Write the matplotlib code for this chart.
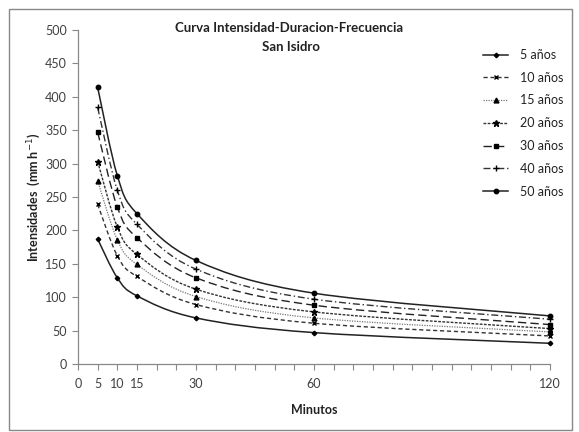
import numpy as np
import matplotlib
matplotlib.use("Agg")
import matplotlib.pyplot as plt
from matplotlib.path import Path
from matplotlib.patches import PathPatch, Rectangle
from matplotlib.lines import Line2D

minutos = [5, 10, 15, 30, 60, 120]
series_labels = ["5 años", "10 años", "15 años", "20 años", "30 años", "40 años", "50 años"]
i_5 = [187, 129, 102, 69, 47, 31]
i_10 = [239, 162, 131, 89, 61, 42]
i_15 = [274, 186, 149, 101, 69, 48]
i_20 = [303, 205, 164, 112, 78, 53]
i_30 = [347, 235, 189, 129, 88, 59]
i_40 = [384, 260, 209, 142, 97, 67]
i_50 = [414, 282, 225, 155, 106, 72]
x_tick_labels = [0, 5, 10, 15, 30, 60, 120]

all_series = [i_5, i_10, i_15, i_20, i_30, i_40, i_50]
styles = [
    dict(ls="-", marker="D", ms=2.3, color="#222222", lw=1.1),
    dict(ls=(0, (3, 2)), marker="x", ms=3.5, color="#333333", lw=1.0),
    dict(ls=(0, (1, 1)), marker="^", ms=3.5, color="#777777", lw=0.9),
    dict(ls=(0, (2, 1)), marker="*", ms=4.5, color="#333333", lw=1.0),
    dict(ls=(0, (6, 3)), marker="s", ms=3.5, color="#222222", lw=1.0),
    dict(ls=(0, (5, 2, 1, 2)), marker="+", ms=4.5, color="#333333", lw=1.0),
    dict(ls="-", marker="o", ms=3.2, color="#222222", lw=1.1),
]

plt.rcParams['font.family'] = ['Lato', 'DejaVu Sans']

fig = plt.figure(figsize=(5.79, 4.32), dpi=100)
ax_w, ax_h = 472, 334
ax = fig.add_axes([78/579, 68/432, ax_w/579, ax_h/432])


def smooth_path(xs, ys, t=1/6):
    xs = np.asarray(xs, float)
    ys = np.asarray(ys, float)
    n = len(xs)
    verts = [(xs[0], ys[0])]
    codes = [Path.MOVETO]
    for i in range(n - 1):
        p0 = np.array([xs[max(i-1, 0)], ys[max(i-1, 0)]])
        p1 = np.array([xs[i], ys[i]])
        p2 = np.array([xs[i+1], ys[i+1]])
        p3 = np.array([xs[min(i+2, n-1)], ys[min(i+2, n-1)]])
        c1 = p1 + (p2 - p0) * t
        c2 = p2 - (p3 - p1) * t
        verts += [tuple(c1), tuple(c2), tuple(p2)]
        codes += [Path.CURVE4] * 3
    return Path(verts, codes)


handles = []
aspect = ax_h / ax_w
for ys, st, lab in zip(all_series, styles, series_labels):
    xs_n = np.asarray(minutos, float) / 120.0
    ys_n = np.asarray(ys, float) / 500.0 * aspect
    p = smooth_path(xs_n, ys_n)
    v = p.vertices.copy()
    v[:, 0] *= 120.0
    v[:, 1] = v[:, 1] / aspect * 500.0
    patch = PathPatch(Path(v, p.codes), fill=False, edgecolor=st["color"],
                      linestyle=st["ls"], lw=st["lw"])
    ax.add_patch(patch)
    ax.plot(minutos, ys, linestyle="none", marker=st["marker"], ms=st["ms"],
            color="black", mew=1.0, clip_on=False)
    handles.append(Line2D([], [], linestyle=st["ls"], color=st["color"], lw=st["lw"],
                          marker=st["marker"], ms=st["ms"], mfc="black", mec="black"))

ax.set_xlim(0, 120)
ax.set_ylim(0, 500)
ax.set_xticks(np.arange(0, 121, 5))
ax.set_xticklabels([str(v) if v in x_tick_labels else "" for v in range(0, 121, 5)])
ax.set_yticks(np.arange(0, 501, 50))
for s in ["top", "right"]:
    ax.spines[s].set_visible(False)
for s in ["left", "bottom"]:
    ax.spines[s].set_color("#888888")
    ax.spines[s].set_linewidth(0.9)
ax.tick_params(axis="both", colors="#888888", labelcolor="#404040", labelsize=9,
               length=4, width=0.8, direction="out")
ax.tick_params(axis="x", pad=6)
ax.tick_params(axis="y", pad=4)

ax.set_xlabel("Minutos", fontsize=9, fontweight="bold", color="#222222")
ax.xaxis.set_label_coords(0.5, -(404 - 364) / ax_h, transform=ax.transAxes)
ax.set_ylabel("Intensidades  (mm h$^{-1}$)", fontsize=9, fontweight="bold",
              color="#222222", va="center")
ax.yaxis.set_label_coords(-(78 - 34) / ax_w, 0.5)

fig.text(0.5, 1 - 28/432, "Curva Intensidad-Duracion-Frecuencia", ha="center", va="center",
         fontsize=9.5, fontweight="bold", color="#222222")
fig.text(0.503, 1 - 47/432, "San Isidro", ha="center", va="center",
         fontsize=9.5, fontweight="bold", color="#222222")

leg = fig.legend(handles=handles, labels=series_labels, loc="upper left",
                 bbox_to_anchor=(483/579, 1 - 49/432), frameon=False, fontsize=9,
                 handlelength=2.0, handletextpad=1.0, labelspacing=0.86,
                 borderaxespad=0, borderpad=0)
for t in leg.get_texts():
    t.set_color("#222222")

fig.patches.append(Rectangle((9/579, 2/432), 563/579, 421/432, transform=fig.transFigure,
                             fill=False, edgecolor="#888888", lw=1.0))

fig.savefig("out.png", dpi=100)
